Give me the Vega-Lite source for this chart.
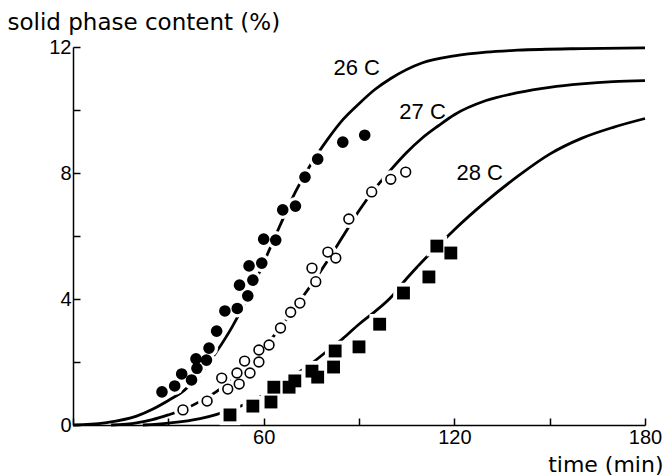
{
  "$schema": "https://vega.github.io/schema/vega-lite/v6.json",
  "width": 572,
  "height": 378,
  "autosize": {"type": "none"},
  "padding": {"left": 73, "top": 47, "right": 22, "bottom": 51},
  "background": "white",
  "config": {
    "view": {"stroke": null},
    "font": "Liberation Sans",
    "axis": {
      "grid": false,
      "domainColor": "black",
      "domainWidth": 1.5,
      "tickColor": "black",
      "tickWidth": 1.5,
      "labelColor": "black",
      "labelFont": "Liberation Sans",
      "labelFontSize": 20,
      "titleColor": "black",
      "titleFont": "DejaVu Sans",
      "titleFontSize": 22,
      "titleFontWeight": "normal"
    }
  },
  "datasets": {
    "curves": [
      {"series": "26C", "t": 0, "v": 0}, {"series": "26C", "t": 10, "v": 0.07}, {"series": "26C", "t": 20, "v": 0.28}, {"series": "26C", "t": 25, "v": 0.5}, {"series": "26C", "t": 30, "v": 0.78}, {"series": "26C", "t": 35, "v": 1.1}, {"series": "26C", "t": 40, "v": 1.6}, {"series": "26C", "t": 45, "v": 2.3}, {"series": "26C", "t": 50, "v": 3.1}, {"series": "26C", "t": 55, "v": 4.05}, {"series": "26C", "t": 60, "v": 5.15}, {"series": "26C", "t": 65, "v": 6.3}, {"series": "26C", "t": 70, "v": 7.4}, {"series": "26C", "t": 75, "v": 8.3}, {"series": "26C", "t": 80, "v": 9.05}, {"series": "26C", "t": 85, "v": 9.7}, {"series": "26C", "t": 90, "v": 10.2}, {"series": "26C", "t": 95, "v": 10.65}, {"series": "26C", "t": 100, "v": 11.0}, {"series": "26C", "t": 110, "v": 11.5}, {"series": "26C", "t": 120, "v": 11.72}, {"series": "26C", "t": 130, "v": 11.84}, {"series": "26C", "t": 140, "v": 11.9}, {"series": "26C", "t": 160, "v": 11.95}, {"series": "26C", "t": 180, "v": 11.97},
      {"series": "27C", "t": 12, "v": 0}, {"series": "27C", "t": 20, "v": 0.07}, {"series": "27C", "t": 25, "v": 0.17}, {"series": "27C", "t": 30, "v": 0.32}, {"series": "27C", "t": 35, "v": 0.5}, {"series": "27C", "t": 40, "v": 0.75}, {"series": "27C", "t": 45, "v": 1.05}, {"series": "27C", "t": 50, "v": 1.45}, {"series": "27C", "t": 55, "v": 1.9}, {"series": "27C", "t": 60, "v": 2.45}, {"series": "27C", "t": 65, "v": 3.05}, {"series": "27C", "t": 70, "v": 3.75}, {"series": "27C", "t": 75, "v": 4.45}, {"series": "27C", "t": 80, "v": 5.2}, {"series": "27C", "t": 85, "v": 6.0}, {"series": "27C", "t": 90, "v": 6.8}, {"series": "27C", "t": 95, "v": 7.5}, {"series": "27C", "t": 100, "v": 8.1}, {"series": "27C", "t": 105, "v": 8.65}, {"series": "27C", "t": 110, "v": 9.12}, {"series": "27C", "t": 115, "v": 9.5}, {"series": "27C", "t": 120, "v": 9.85}, {"series": "27C", "t": 130, "v": 10.3}, {"series": "27C", "t": 140, "v": 10.55}, {"series": "27C", "t": 150, "v": 10.72}, {"series": "27C", "t": 160, "v": 10.83}, {"series": "27C", "t": 170, "v": 10.9}, {"series": "27C", "t": 180, "v": 10.93},
      {"series": "28C", "t": 22, "v": 0}, {"series": "28C", "t": 30, "v": 0.06}, {"series": "28C", "t": 40, "v": 0.2}, {"series": "28C", "t": 45, "v": 0.33}, {"series": "28C", "t": 50, "v": 0.5}, {"series": "28C", "t": 55, "v": 0.7}, {"series": "28C", "t": 60, "v": 0.95}, {"series": "28C", "t": 65, "v": 1.25}, {"series": "28C", "t": 70, "v": 1.6}, {"series": "28C", "t": 75, "v": 1.95}, {"series": "28C", "t": 80, "v": 2.35}, {"series": "28C", "t": 85, "v": 2.75}, {"series": "28C", "t": 90, "v": 3.2}, {"series": "28C", "t": 95, "v": 3.6}, {"series": "28C", "t": 100, "v": 4.05}, {"series": "28C", "t": 105, "v": 4.65}, {"series": "28C", "t": 110, "v": 5.2}, {"series": "28C", "t": 115, "v": 5.7}, {"series": "28C", "t": 120, "v": 6.2}, {"series": "28C", "t": 130, "v": 7.1}, {"series": "28C", "t": 140, "v": 7.9}, {"series": "28C", "t": 150, "v": 8.6}, {"series": "28C", "t": 160, "v": 9.1}, {"series": "28C", "t": 170, "v": 9.45}, {"series": "28C", "t": 180, "v": 9.73}
    ],
    "points": [
      {"series": "26C", "t": 28, "v": 1.05}, {"series": "26C", "t": 32, "v": 1.24}, {"series": "26C", "t": 34.2, "v": 1.62}, {"series": "26C", "t": 37.3, "v": 1.43}, {"series": "26C", "t": 39, "v": 1.8}, {"series": "26C", "t": 38.7, "v": 2.1}, {"series": "26C", "t": 42, "v": 2.06}, {"series": "26C", "t": 42.8, "v": 2.44}, {"series": "26C", "t": 45.2, "v": 2.98}, {"series": "26C", "t": 47.8, "v": 3.62}, {"series": "26C", "t": 51.7, "v": 3.7}, {"series": "26C", "t": 55, "v": 4.1}, {"series": "26C", "t": 52.4, "v": 4.44}, {"series": "26C", "t": 56.6, "v": 4.6}, {"series": "26C", "t": 55.4, "v": 5.05}, {"series": "26C", "t": 59.4, "v": 5.14}, {"series": "26C", "t": 60, "v": 5.9}, {"series": "26C", "t": 63.8, "v": 5.87}, {"series": "26C", "t": 66, "v": 6.83}, {"series": "26C", "t": 70, "v": 6.95}, {"series": "26C", "t": 73, "v": 7.87}, {"series": "26C", "t": 77, "v": 8.44}, {"series": "26C", "t": 84.9, "v": 8.98}, {"series": "26C", "t": 91.8, "v": 9.2},
      {"series": "27C", "t": 34.6, "v": 0.48}, {"series": "27C", "t": 42.2, "v": 0.76}, {"series": "27C", "t": 46.8, "v": 1.49}, {"series": "27C", "t": 48.7, "v": 1.14}, {"series": "27C", "t": 51.6, "v": 1.65}, {"series": "27C", "t": 52.3, "v": 1.3}, {"series": "27C", "t": 54, "v": 2.03}, {"series": "27C", "t": 55.7, "v": 1.65}, {"series": "27C", "t": 58.5, "v": 2.0}, {"series": "27C", "t": 58.5, "v": 2.38}, {"series": "27C", "t": 61.7, "v": 2.54}, {"series": "27C", "t": 65.3, "v": 3.08}, {"series": "27C", "t": 68.5, "v": 3.58}, {"series": "27C", "t": 71.4, "v": 3.87}, {"series": "27C", "t": 76.4, "v": 4.55}, {"series": "27C", "t": 75.2, "v": 4.98}, {"series": "27C", "t": 82.7, "v": 5.3}, {"series": "27C", "t": 80.2, "v": 5.49}, {"series": "27C", "t": 86.8, "v": 6.54}, {"series": "27C", "t": 94, "v": 7.4}, {"series": "27C", "t": 100, "v": 7.8}, {"series": "27C", "t": 104.7, "v": 8.03},
      {"series": "28C", "t": 49.4, "v": 0.32}, {"series": "28C", "t": 56.6, "v": 0.6}, {"series": "28C", "t": 62.3, "v": 0.73}, {"series": "28C", "t": 63.2, "v": 1.2}, {"series": "28C", "t": 68, "v": 1.2}, {"series": "28C", "t": 69.8, "v": 1.4}, {"series": "28C", "t": 75.2, "v": 1.71}, {"series": "28C", "t": 77, "v": 1.52}, {"series": "28C", "t": 82, "v": 1.84}, {"series": "28C", "t": 82.5, "v": 2.35}, {"series": "28C", "t": 90, "v": 2.48}, {"series": "28C", "t": 96.5, "v": 3.2}, {"series": "28C", "t": 104, "v": 4.19}, {"series": "28C", "t": 112, "v": 4.7}, {"series": "28C", "t": 114.5, "v": 5.68}, {"series": "28C", "t": 118.9, "v": 5.46}
    ],
    "labels": [
      {"label": "26 C", "t": 89.3, "v": 11.33},
      {"label": "27 C", "t": 110, "v": 9.94},
      {"label": "28 C", "t": 128, "v": 8.0}
    ]
  },
  "encoding": {
    "x": {
      "field": "t", "type": "quantitative",
      "scale": {"domain": [0, 180], "nice": false, "zero": true},
      "axis": {
        "values": [0, 30, 60, 90, 120, 150, 180],
        "labelExpr": "datum.value % 60 == 0 && datum.value > 0 ? datum.label : ''",
        "tickSize": -7,
        "labelPadding": 9,
        "labelAlign": "center",
        "title": "time (min)",
        "titleAlign": "right",
        "titleAnchor": "end",
        "titleX": 590,
        "titleY": 46,
        "titleBaseline": "alphabetic"
      }
    },
    "y": {
      "field": "v", "type": "quantitative",
      "scale": {"domain": [0, 12], "nice": false},
      "axis": {
        "values": [0, 2, 4, 6, 8, 10, 12],
        "labelExpr": "datum.value % 4 == 0 ? datum.label : ''",
        "tickSize": -7,
        "labelPadding": 9,
        "title": "solid phase content (%)",
        "titleFontSize": 23,
        "titleAngle": 0,
        "titleAlign": "left",
        "titleX": -66,
        "titleY": -18,
        "titleBaseline": "alphabetic"
      }
    }
  },
  "layer": [
    {
      "data": {"name": "curves"},
      "mark": {"type": "line", "color": "black", "strokeWidth": 2.8, "interpolate": "monotone"},
      "encoding": {"detail": {"field": "series", "type": "nominal"}}
    },
    {
      "data": {"name": "points"},
      "transform": [{"filter": "datum.series != '28C'"}],
      "mark": {"type": "point", "shape": "circle", "filled": true, "color": "white", "opacity": 1, "size": 330, "strokeWidth": 0}
    },
    {
      "data": {"name": "points"},
      "transform": [{"filter": "datum.series == '28C'"}],
      "mark": {"type": "point", "shape": "square", "filled": true, "color": "white", "opacity": 1, "size": 420, "strokeWidth": 0}
    },
    {
      "data": {"name": "points"},
      "transform": [{"filter": "datum.series == '26C'"}],
      "mark": {"type": "point", "shape": "circle", "filled": true, "color": "black", "opacity": 1, "size": 135, "strokeWidth": 0}
    },
    {
      "data": {"name": "points"},
      "transform": [{"filter": "datum.series == '27C'"}],
      "mark": {"type": "point", "shape": "circle", "filled": false, "fill": "white", "fillOpacity": 1, "stroke": "black", "strokeWidth": 1.6, "opacity": 1, "size": 95}
    },
    {
      "data": {"name": "points"},
      "transform": [{"filter": "datum.series == '28C'"}],
      "mark": {"type": "point", "shape": "square", "filled": true, "color": "black", "opacity": 1, "size": 165, "strokeWidth": 0}
    },
    {
      "data": {"name": "labels"},
      "mark": {"type": "text", "font": "Liberation Sans", "fontSize": 22, "color": "black", "align": "center", "baseline": "middle"},
      "encoding": {"text": {"field": "label", "type": "nominal"}}
    }
  ]
}
